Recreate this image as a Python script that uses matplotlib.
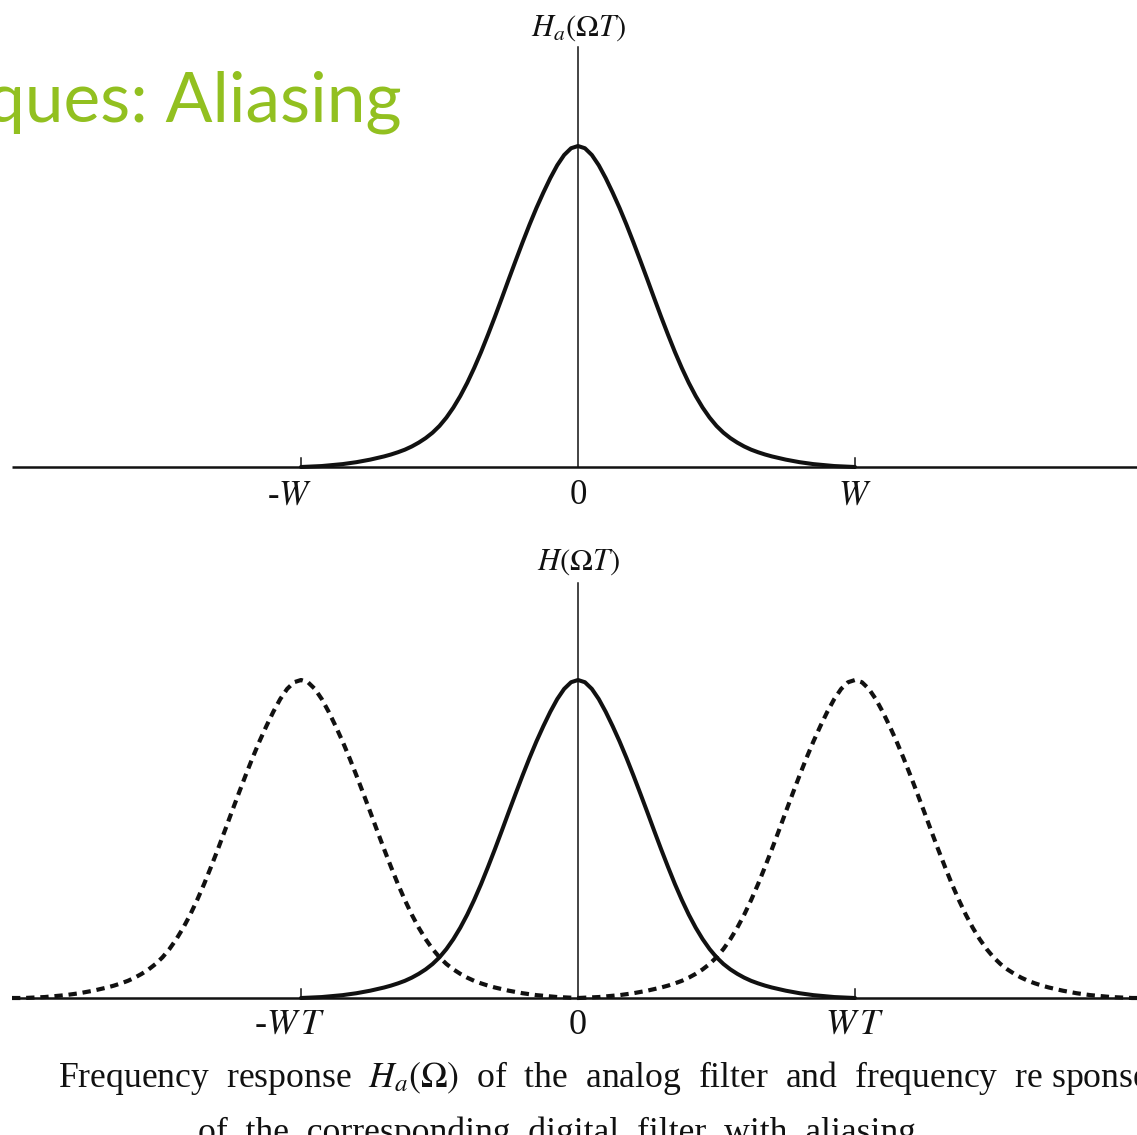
import numpy as np
import matplotlib.pyplot as plt

plt.rcParams["mathtext.fontset"] = "stix"
plt.rcParams["font.family"] = ["Liberation Serif", "DejaVu Serif"]

# One-sided filter response: offset from the centre in units of W (or WT),
# height normalised to the peak value.
offsets = [0.000, 0.025, 0.050, 0.075, 0.100, 0.125, 0.150, 0.175, 0.200, 0.225,
           0.250, 0.275, 0.300, 0.325, 0.350, 0.375, 0.400, 0.425, 0.450, 0.475,
           0.500, 0.525, 0.550, 0.575, 0.600, 0.625, 0.650, 0.675, 0.700, 0.725,
           0.750, 0.775, 0.800, 0.825, 0.850, 0.875, 0.900, 0.925, 0.950, 0.975,
           1.000]
heights = [1.000, 0.993, 0.972, 0.940, 0.900, 0.855, 0.807, 0.755, 0.700, 0.643,
           0.585, 0.526, 0.468, 0.412, 0.358, 0.308, 0.262, 0.221, 0.185, 0.154,
           0.128, 0.107, 0.090, 0.076, 0.064, 0.054, 0.046, 0.039, 0.033, 0.028,
           0.023, 0.019, 0.015, 0.012, 0.009, 0.007, 0.005, 0.003, 0.002, 0.001,
           0.000]

# centres of the spectral images in the digital response
alias_shifts = [-1.0, 1.0]

top_ticks = [-1.0, 0.0, 1.0]
top_labels = ["-$W$", "0", "$W$"]
bottom_ticks = [-1.0, 0.0, 1.0]
bottom_labels = ["-$W\\,T$", "0", "$W\\,T$"]

W_PX, H_PX = 1137, 1135
fig = plt.figure(figsize=(W_PX / 100, H_PX / 100), dpi=100)

x_half = np.array(offsets)
y_half = np.array(heights)
x_curve = np.concatenate([-x_half[::-1], x_half[1:]])
y_curve = np.concatenate([y_half[::-1], y_half[1:]])

# horizontal range: 277 px per unit, origin at 578 px
unit_px = 277.0
x0_px = 578.0
xlim = (-x0_px / unit_px, (W_PX - x0_px) / unit_px)
x_start = (12 - x0_px) / unit_px
ink = "#111111"


def make_axes(top_px, bottom_px, base_px, peak_px):
    ax = fig.add_axes([0, 1 - bottom_px / H_PX, 1, (bottom_px - top_px) / H_PX])
    scale = base_px - peak_px
    ax.set_xlim(*xlim)
    ax.set_ylim(-(bottom_px - base_px) / scale, (base_px - top_px) / scale)
    ax.axis("off")
    return ax, scale


def draw_frame(ax, scale, axis_top, ticks, labels, label_y, size):
    ax.plot([x_start, xlim[1]], [0, 0], color=ink, lw=1.8, solid_capstyle="butt")
    ax.plot([0, 0], [0, axis_top], color=ink, lw=1.1)
    for t in ticks:
        if t != 0:
            ax.plot([t, t], [0, 9 / scale], color=ink, lw=1.1)
    for t, lab in zip(ticks, labels):
        dx = -0.04 if t < 0 else 0.0
        ax.text(t + dx, label_y, lab, ha="center", va="center", fontsize=size,
                color=ink)


# analog filter response
ax1, s1 = make_axes(40, 480, 467, 146)
draw_frame(ax1, s1, (467 - 47) / s1, top_ticks, top_labels, -(496 - 467) / s1, 25)
ax1.plot(x_curve, y_curve, color=ink, lw=2.9, solid_capstyle="round",
         solid_joinstyle="round")
ax1.text(0, (467 - 28) / s1, r"$H_a(\Omega T)$", ha="center", va="center",
         fontsize=22, color=ink)

# digital filter response with aliased images
ax2, s2 = make_axes(575, 1010, 998, 680)
draw_frame(ax2, s2, (998 - 583) / s2, bottom_ticks, bottom_labels, -(1025 - 998) / s2, 26)
ax2.plot(x_curve, y_curve, color=ink, lw=2.9, solid_capstyle="round",
         solid_joinstyle="round")
for shift in alias_shifts:
    xs = x_curve + shift
    if shift < 0:
        xs = np.concatenate([[x_start], xs])
        ys = np.concatenate([[0.0], y_curve])
    else:
        xs = np.concatenate([xs, [xlim[1]]])
        ys = np.concatenate([y_curve, [0.0]])
    ax2.plot(xs, ys, color=ink, lw=3.0, linestyle=(0, (2.0, 1.4)),
             dash_capstyle="butt")
ax2.text(0, (998 - 562) / s2, r"$H(\Omega T)$", ha="center", va="center",
         fontsize=22, color=ink)

# slide heading and figure caption
fig.text(402 / W_PX, 1 - 122 / H_PX, "ques: Aliasing", ha="right", va="baseline",
         fontsize=50, color="#92C020", family="Lato")
fig.text(58 / W_PX, 1 - 1087 / H_PX,
         r"Frequency  response  $H_a(\Omega)$  of  the  analog  filter  and  "
         r"frequency  re sponse",
         ha="left", va="baseline", fontsize=25.7, color=ink)
fig.text(198 / W_PX, 1 - 1142 / H_PX,
         "of  the  corresponding  digital  filter  with  aliasing.",
         ha="left", va="baseline", fontsize=25.7, color=ink)

fig.savefig("out.png", dpi=100, facecolor="white")
